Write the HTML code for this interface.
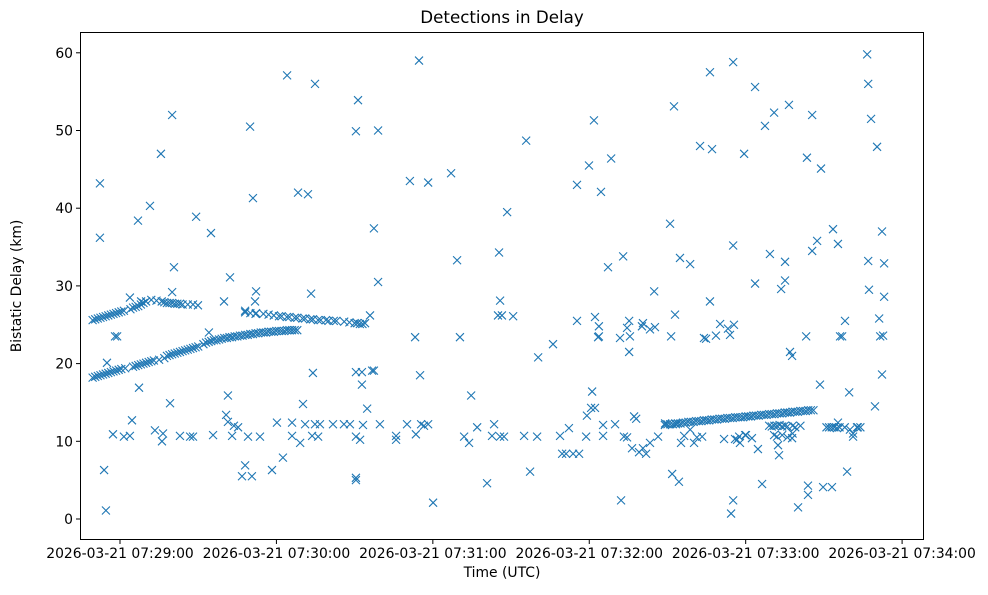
<!DOCTYPE html>
<html><head><meta charset="utf-8">
<style>
html,body{margin:0;padding:0;background:#fff;}
svg text{font-family:"DejaVu Sans","Liberation Sans",sans-serif;fill:#000;}
</style></head>
<body>
<svg id="chart" width="988" height="590" viewBox="0 0 988 590" xmlns="http://www.w3.org/2000/svg">
<rect x="0" y="0" width="988" height="590" fill="#fff"/>
<text x="502" y="23" font-size="16.7" text-anchor="middle">Detections in Delay</text>
<g id="marks"></g>
<rect x="80.5" y="32.5" width="843" height="507" fill="none" stroke="#000" stroke-width="1"/>
<g id="yticks"></g>
<g id="xticks"></g>
<text x="502" y="577" font-size="13.9" text-anchor="middle">Time (UTC)</text>
<text x="0" y="0" font-size="13.9" text-anchor="middle" transform="translate(21,286) rotate(-90)">Bistatic Delay (km)</text>
</svg>
<script>
// times: seconds after 2026-03-21 07:28:00 UTC; delays in km
const yTickValues = [0, 10, 20, 30, 40, 50, 60];
const xTickSeconds = [60, 120, 180, 240, 300, 360];
const xTickLabels = ["2026-03-21 07:29:00","2026-03-21 07:30:00","2026-03-21 07:31:00","2026-03-21 07:32:00","2026-03-21 07:33:00","2026-03-21 07:34:00"];

const trackLower = [[49.5,18.2],[50.5,18.3],[51.5,18.4],[52.5,18.5],[53.5,18.6],[54.5,18.7],[55.5,18.8],[56.5,18.9],[57.5,19],[58.5,19.1],[59.5,19.2],[60.5,19.3],[62,19.4],[65,19.6],[66,19.7],[67,19.8],[68,19.9],[69,20],[70,20.1],[71,20.2],[72,20.3],[73,20.4],[75,20.5],[77,20.7],[78,21],[79,21.1],[80,21.2],[81,21.3],[82,21.4],[83,21.5],[84,21.6],[85,21.7],[86,21.8],[87,21.9],[88,22],[89,22.1],[90,22.2],[92,22.5],[93,22.7],[94,22.8],[95,22.9],[96,23],[97,23],[98,23.1],[99,23.2],[100,23.3],[101,23.3],[102,23.4],[103,23.4],[104,23.5],[105,23.5],[106,23.6],[107,23.6],[108,23.7],[109,23.7],[110,23.8],[111,23.8],[112,23.9],[113,23.9],[114,24],[115,24],[116,24],[117,24.1],[118,24.1],[119,24.1],[120,24.2],[121,24.2],[122,24.2],[123,24.2],[124,24.3],[125,24.3],[126,24.3],[127,24.3],[128,24.3]];

const trackUpper = [[49.5,25.6],[50.5,25.7],[51.5,25.8],[52.5,25.9],[53.5,26],[54.5,26.1],[55.5,26.2],[56.5,26.3],[57.5,26.4],[58.5,26.5],[59.5,26.6],[60.5,26.7],[61.5,26.8],[64,27],[65,27.2],[66,27.3],[67,27.4],[68,27.6],[69,27.8],[70,28],[72,28.2],[74,28.1],[76,28],[77,27.9],[78,27.8],[79,27.8],[80,27.8],[81,27.7],[82,27.7],[83,27.7],[84,27.6],[86,27.6],[88,27.6],[108,26.6],[110,26.5],[112,26.4],[115,26.4],[117,26.3],[119,26.2],[121,26.1],[122,26.1],[124,26],[125,26],[127,25.9],[128,25.9],[130,25.8],[131,25.8],[133,25.7],[134,25.7],[136,25.6],[137,25.6],[139,25.6],[140,25.5],[142,25.5],[143,25.5],[146,25.4],[148,25.3],[150,25.2],[151,25.2],[152,25.1],[153,25.1],[154,25.2]];

const trackLate = [[269,12.1],[270,12.2],[271,12.2],[272,12.2],[273,12.3],[274,12.3],[275,12.3],[276,12.4],[277,12.4],[278,12.5],[279,12.5],[280,12.5],[281,12.6],[282,12.6],[283,12.6],[284,12.7],[285,12.7],[286,12.7],[287,12.8],[288,12.8],[289,12.8],[290,12.9],[291,12.9],[292,12.9],[293,13],[294,13],[295,13],[296,13.1],[297,13.1],[298,13.1],[299,13.1],[300,13.2],[301,13.2],[302,13.2],[303,13.3],[304,13.3],[305,13.3],[306,13.4],[307,13.4],[308,13.4],[309,13.5],[310,13.5],[311,13.5],[312,13.6],[313,13.6],[314,13.6],[315,13.7],[316,13.7],[317,13.7],[318,13.8],[319,13.8],[320,13.8],[321,13.9],[322,13.9],[323,13.9],[324,14],[325,14],[326,14],
[331,11.8],[332,11.8],[333,11.8],[334,11.8],[335,11.7],[336,11.8],[338,11.8],[343,11.8],[344,11.8],
[309,12],[310,11.9],[311,12],[312,12],[313,12.1],[314,11.9],[315,12],[316,11.9],[318,12],[319,11.8],[321,12],[312,10.6],[314,10.8],[316,10.5],[318,11]];

const scattered = [[52.3,43.2],[52.3,36.2],[53.9,6.3],[54.6,1.1],[55,20.1],[57.3,10.9],[58.1,23.5],[58.9,23.5],[61.5,10.6],[63.8,10.7],[63.8,28.5],[64.6,12.7],[66.9,38.4],[67.3,16.9],[68.1,28],[71.5,40.3],[73.4,11.4],[75.7,47],[76.1,10],[76.5,11],[79.2,14.9],[80,52],[80.7,32.4],[80,29.2],[83,10.7],[86.9,10.6],[88,10.6],[89.2,38.9],[89.9,27.5],[94.9,36.8],[94.1,24],[95.7,10.8],[99.9,28],[100.7,13.4],[101.4,15.9],[102.2,31.1],[101.4,12.5],[103,10.7],[103.7,12],[105.3,11.8],[106.8,5.5],[108,6.9],[108,26.8],[109.1,10.6],[109.9,50.5],[110.6,5.5],[111,41.3],[111.8,28],[112.2,29.3],[113.7,10.6],[112.2,26.5],[118.3,6.3],[120.2,12.4],[122.5,7.9],[124.1,57.1],[126,10.7],[126,12.4],[128.3,42],[129.1,9.8],[130.2,14.8],[131,12.2],[132.1,41.8],[133.3,29],[133.7,10.7],[134,18.8],[134.8,56],[134.8,12.2],[136,10.6],[136.7,12.2],[141.7,12.2],[145.9,12.2],[148.2,12.2],[150.5,5.3],[150.5,5],[150.5,10.6],[150.5,18.9],[150.5,49.9],[151.3,53.9],[152.1,10.2],[152.8,17.3],[152.8,18.9],[153.2,12.1],[154.8,14.2],[155.9,26.2],[156.7,19.1],[157.4,37.4],[157.4,19.1],[159,50],[159,30.5],[159.7,12.2],[165.9,10.7],[165.9,10.2],[170.1,12.2],[171.2,43.5],[173.2,23.4],[173.5,10.9],[174.7,59],[175.1,18.5],[175.5,12.2],[176.6,12],[178.2,43.3],[178.2,12.2],[180.1,2.1],[187,44.5],[189.3,33.3],[190.4,23.4],[192,10.6],[193.9,9.8],[194.7,15.9],[197,11.8],[200.8,4.6],[202.7,10.7],[203.5,12.2],[205,26.2],[205.4,34.3],[205.8,28.1],[205.8,10.6],[206.5,26.2],[207.3,10.6],[208.5,39.5],[210.8,26.1],[215,10.7],[215.8,48.7],[217.3,6.1],[220.4,20.8],[220,10.6],[226.1,22.5],[228.8,10.7],[229.6,8.4],[231.1,8.4],[232.2,11.7],[233.8,8.4],[235.3,43],[235.3,25.5],[236.1,8.4],[238.8,10.6],[239.1,13.3],[239.9,45.5],[240.7,14.3],[241.1,16.4],[241.8,51.3],[242.2,14.3],[242.2,26],[243.4,23.4],[243.7,23.5],[243.7,24.8],[244.5,42.1],[245.3,12.1],[245.3,10.7],[247.2,32.4],[248.4,46.4],[249.9,12.2],[251.8,23.3],[252.2,2.4],[253,33.8],[253.3,10.6],[254.5,10.5],[254.5,24.6],[255.3,21.5],[255.6,23.5],[255.3,25.5],[256.4,9.1],[257.2,13.2],[258,12.9],[259.1,8.6],[260.2,24.8],[260.6,25.2],[260.6,9.1],[261.8,8.4],[263.3,24.4],[263.3,9.8],[264.9,29.3],[265.2,24.7],[266.4,10.6],[269.1,12.3],[271,38],[271.4,23.5],[271.8,5.8],[272.5,53.1],[272.9,26.3],[273.3,12.2],[274.4,4.8],[274.8,33.6],[275.2,9.8],[276.4,10.7],[278.7,32.8],[278.7,11.5],[280.2,9.8],[281.3,10.5],[282.5,48],[283.3,10.6],[284,23.3],[284.8,23.2],[286.3,57.5],[286.3,28],[287.1,47.6],[288.6,23.6],[290.2,25.1],[291.7,10.3],[293.2,24.5],[294,23.7],[294.4,0.7],[295.2,35.2],[295.2,58.8],[295.2,2.4],[295.5,25],[295.9,10.3],[296.7,10.2],[297.5,10.6],[297.8,9.8],[299.4,47],[299.8,10.8],[300.1,10.8],[302.4,10.4],[303.6,55.6],[303.6,30.3],[304.7,9],[306.3,4.5],[307.4,50.6],[309.3,34.1],[310.9,52.3],[310.9,10.8],[312.4,9.5],[312.8,8.2],[313.6,29.6],[315.1,30.7],[315.1,33.1],[316.6,53.3],[317,21.5],[317.8,21],[317.8,10.4],[320.1,1.5],[323.2,23.5],[323.5,46.5],[323.9,4.3],[323.9,3.1],[325.5,34.5],[325.5,52],[327.4,35.8],[328.5,17.3],[328.9,45.1],[329.7,4.1],[333.1,4.1],[333.5,37.3],[335.4,35.4],[335.4,12.4],[336.2,23.5],[337,23.5],[338.1,25.5],[338.9,6.1],[339.7,16.3],[340,11.5],[341.2,11],[341.2,10.6],[342.7,11.8],[346.6,59.8],[347,56],[347,33.2],[347.3,29.5],[348.1,51.5],[349.6,14.5],[350.4,47.9],[351.2,25.8],[351.6,23.5],[352.3,18.6],[352.3,37],[352.7,23.6],[353.1,32.9],[353.1,28.6]];

const NS = "http://www.w3.org/2000/svg";
function xScale(s){ return 120 + (s - 60) * 2.607; }
function yScale(d){ return 519 - d * 7.77; }

const marks = document.getElementById('marks');
function drawX(pt){
  const cx = xScale(pt[0]), cy = yScale(pt[1]), r = 4;
  const p = document.createElementNS(NS, 'path');
  p.setAttribute('d', `M${cx-r},${cy-r}L${cx+r},${cy+r}M${cx-r},${cy+r}L${cx+r},${cy-r}`);
  p.setAttribute('stroke', '#1f77b4');
  p.setAttribute('stroke-width', '1.1');
  p.setAttribute('fill', 'none');
  
  
  marks.appendChild(p);
}
[trackLower, trackUpper, trackLate, scattered].forEach(arr => arr.forEach(drawX));

const yt = document.getElementById('yticks');
yTickValues.forEach(v => {
  const y = yScale(v);
  const l = document.createElementNS(NS, 'line');
  l.setAttribute('x1', 76); l.setAttribute('x2', 80); l.setAttribute('y1', y); l.setAttribute('y2', y);
  l.setAttribute('stroke', '#000');
  
  
  yt.appendChild(l);
  const t = document.createElementNS(NS, 'text');
  t.setAttribute('x', 73); t.setAttribute('y', y + 5);
  t.setAttribute('font-size', '13.9'); t.setAttribute('text-anchor', 'end');
  t.textContent = String(v);
  
  
  yt.appendChild(t);
});

const xt = document.getElementById('xticks');
xTickSeconds.forEach((s, i) => {
  const x = xScale(s);
  const l = document.createElementNS(NS, 'line');
  l.setAttribute('x1', x); l.setAttribute('x2', x); l.setAttribute('y1', 540); l.setAttribute('y2', 544);
  l.setAttribute('stroke', '#000');
  
  
  xt.appendChild(l);
  const t = document.createElementNS(NS, 'text');
  t.setAttribute('x', x); t.setAttribute('y', 558);
  t.setAttribute('font-size', '13.9'); t.setAttribute('text-anchor', 'middle');
  t.textContent = xTickLabels[i];
  
  
  xt.appendChild(t);
});
</script>
</body></html>
